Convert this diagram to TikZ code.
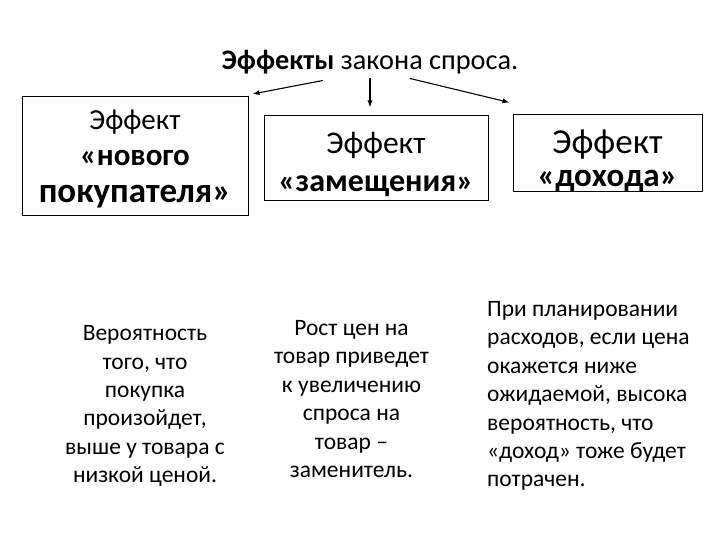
\documentclass[tikz,border=0pt]{standalone}
\usepackage{fontspec}
\setmainfont{Carlito}
\usetikzlibrary{arrows.meta,calc}

\begin{document}
\begin{tikzpicture}[
  x=1pt, y=-1pt,
  effbox/.style={draw, line width=1pt, inner sep=0pt},
  efftext/.style={align=center, inner sep=0pt},
  desc/.style={align=#1, inner sep=0pt, font=\fontsize{23.5}{28.4}\selectfont},
  arr/.style={-{Latex[length=7pt,width=5pt]}, line width=1.1pt}
]
\useasboundingbox (0,0) rectangle (720,540);
% title
\node (title) at (370,62) {\fontsize{28.3}{32}\selectfont\textbf{Эффекты} закона спроса.};
% effect boxes
\node[effbox, minimum width=226, minimum height=119] (nov) at (135,156) {};
\node[effbox, minimum width=224, minimum height=85] (zam) at (376,158.5) {};
\node[effbox, minimum width=189, minimum height=77] (doh) at (607.5,153.5) {};
\node[efftext, font=\fontsize{29}{34}\selectfont] (novT) at ($(nov.center)+(0,3)$)
  {Эффект\\[2pt]\fontsize{31}{34}\selectfont\bfseries«нового\\[3pt]\fontsize{35}{34}\selectfont\bfseries покупателя»};
\node[efftext, font=\fontsize{31.5}{37}\selectfont] (zamT) at ($(zam.center)+(0,6)$)
  {Эффект\\[1pt]\fontsize{32}{37}\selectfont\bfseries«замещения»};
\node[efftext, font=\fontsize{35}{34}\selectfont] (dohT) at ($(doh.center)+(0,7)$)
  {Эффект\\[-1pt]\fontsize{33}{34}\selectfont\bfseries«дохода»};
% arrows from title
\draw[arr] ($(title.south)+(-47,3)$) -- ($(nov.north east)+(4,-2)$);
\draw[arr] ($(title.south)+(0,1)$) -- ($(zam.north)+(-6,-8)$);
\draw[arr] ($(title.south)+(40,1)$) -- ($(doh.north west)+(-3,-12)$);
% descriptions
\node[desc=center] (d1) at (145,406)
  {Вероятность\\того, что\\покупка\\произойдет,\\выше у товара с\\низкой ценой.};
\node[desc=center] (d2) at (351.5,399)
  {Рост цен на\\товар приведет\\к увеличению\\спроса на\\товар –\\заменитель.};
\node[desc=left, anchor=west] (d3) at (487,396)
  {При планировании\\расходов, если цена\\окажется ниже\\ожидаемой, высока\\вероятность, что\\«доход» тоже будет\\потрачен.};
\end{tikzpicture}
\end{document}
